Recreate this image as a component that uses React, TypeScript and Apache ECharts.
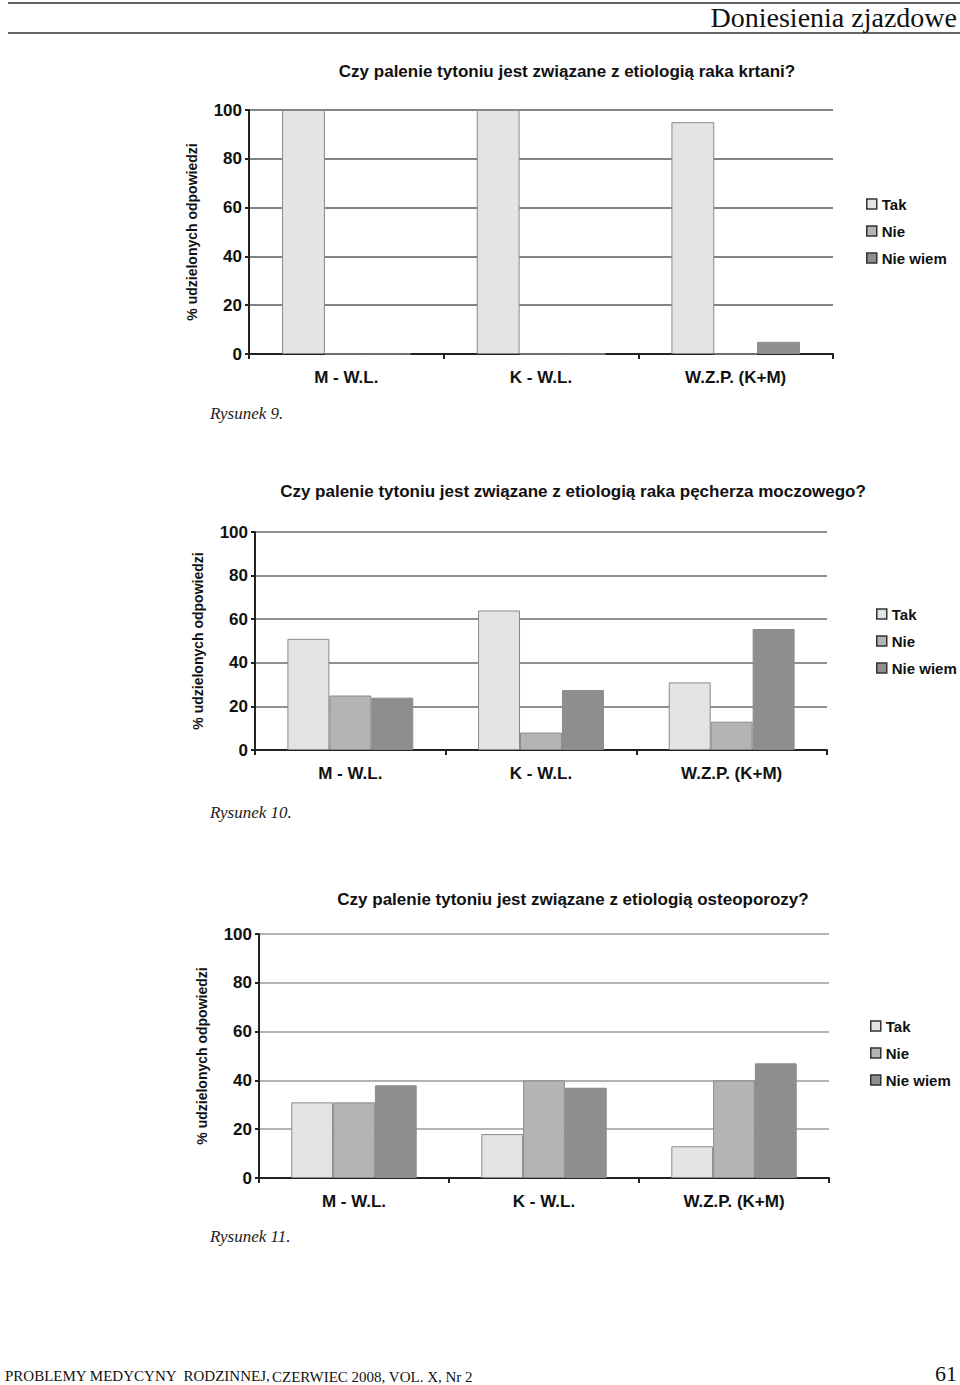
import React, { useEffect, useRef } from "react";
import * as echarts from "echarts";

const categories = ["M - W.L.", "K - W.L.", "W.Z.P. (K+M)"];
const seriesNames = ["Tak", "Nie", "Nie wiem"];
const yTicks = [0, 20, 40, 60, 80, 100];

// Rysunek 9 – rak krtani
const fig9Tak = [100, 100, 95];
const fig9Nie = [0, 0, 0];
const fig9NieWiem = [0, 0, 5];

// Rysunek 10 – rak pęcherza moczowego
const fig10Tak = [51, 64, 31];
const fig10Nie = [25, 8, 13];
const fig10NieWiem = [24, 27.5, 55.5];

// Rysunek 11 – osteoporoza
const fig11Tak = [31, 18, 13];
const fig11Nie = [31, 40, 40];
const fig11NieWiem = [38, 37, 47];

const titles = [
  "Czy palenie tytoniu jest związane z etiologią raka krtani?",
  "Czy palenie tytoniu jest związane z etiologią raka pęcherza moczowego?",
  "Czy palenie tytoniu jest związane z etiologią osteoporozy?",
];
const captions = ["Rysunek 9.", "Rysunek 10.", "Rysunek 11."];
const yName = "% udzielonych odpowiedzi";

const colors = ["#e4e4e4", "#b4b4b4", "#8e8e8e"];
const SANS = "Liberation Sans, Arial, sans-serif";
const SERIF = "Liberation Serif, Times New Roman, serif";

export default function App() {
  const ref = useRef<HTMLDivElement>(null);
  useEffect(() => {
    document.body.style.margin = "0";
    const chart = echarts.init(ref.current!, null, { renderer: "svg" });

    const grids = [
      { left: 249, top: 110, width: 584, height: 244 },
      { left: 255, top: 532, width: 572, height: 218 },
      { left: 259, top: 934, width: 570, height: 244 },
    ];
    const gridLineColors = ["#5a5a5a", "#6a6a6a", "#9a9a9a"];
    const legendPos = [
      { left: 861, top: 191 },
      { left: 871, top: 601 },
      { left: 865, top: 1013 },
    ];
    const titlePos = [
      { x: 567, y: 71 },
      { x: 573, y: 491 },
      { x: 573, y: 899 },
    ];
    const captionY = [413, 812, 1236];
    const data = [
      [fig9Tak, fig9Nie, fig9NieWiem],
      [fig10Tak, fig10Nie, fig10NieWiem],
      [fig11Tak, fig11Nie, fig11NieWiem],
    ];

    const xAxis = grids.map((_, i) => ({
      type: "category",
      gridIndex: i,
      data: categories,
      axisLine: { lineStyle: { color: "#222", width: 2 } },
      axisTick: { show: true, length: 5, lineStyle: { color: "#222", width: 2 } },
      axisLabel: {
        fontFamily: SANS,
        fontWeight: "bold",
        fontSize: 17,
        color: "#111",
        margin: 15,
      },
    }));
    const yAxis = grids.map((_, i) => ({
      type: "value",
      gridIndex: i,
      min: yTicks[0],
      max: yTicks[yTicks.length - 1],
      interval: 20,
      name: yName,
      nameLocation: "middle",
      nameRotate: 90,
      nameGap: 50,
      nameTextStyle: {
        fontFamily: SANS,
        fontWeight: "bold",
        fontSize: 14,
        color: "#111",
      },
      axisLine: { show: true, lineStyle: { color: "#222", width: 2 } },
      axisTick: { show: true, length: 4, lineStyle: { color: "#222", width: 2 } },
      axisLabel: {
        fontFamily: SANS,
        fontWeight: "bold",
        fontSize: 17,
        color: "#111",
        margin: 7,
      },
      splitLine: {
        show: true,
        lineStyle: { color: gridLineColors[i], width: 1.5 },
      },
    }));

    const series: any[] = [];
    data.forEach((d, i) => {
      d.forEach((vals, s) => {
        series.push({
          type: "bar",
          name: seriesNames[s],
          xAxisIndex: i,
          yAxisIndex: i,
          data: vals,
          barGap: "0%",
          barCategoryGap: "34%",
          itemStyle: {
            color: colors[s],
            borderColor: "#8a8a8a",
            borderWidth: 1,
          },
        });
      });
    });

    const legend = legendPos.map((p) => ({
      left: p.left,
      top: p.top,
      orient: "vertical",
      icon: "rect",
      itemWidth: 10,
      itemHeight: 10,
      itemGap: 11,
      data: seriesNames,
      selectedMode: false,
      itemStyle: { borderColor: "#333", borderWidth: 1.5 },
      textStyle: {
        fontFamily: SANS,
        fontWeight: "bold",
        fontSize: 15,
        lineHeight: 16,
        color: "#111",
        padding: [0, 0, 0, 0],
      },
    }));

    const graphic: any[] = [
      {
        type: "rect",
        shape: { x: 8, y: 2, width: 952, height: 2 },
        style: { fill: "#666" },
      },
      {
        type: "rect",
        shape: { x: 8, y: 32, width: 952, height: 2 },
        style: { fill: "#666" },
      },
      {
        type: "text",
        style: {
          text: "Doniesienia zjazdowe",
          x: 957,
          y: 17,
          textAlign: "right",
          textVerticalAlign: "middle",
          font: `28px ${SERIF}`,
          fill: "#111",
        },
      },
      {
        type: "text",
        style: {
          text: "PROBLEMY MEDYCYNY  RODZINNEJ,",
          x: 5,
          y: 1376,
          textAlign: "left",
          textVerticalAlign: "middle",
          font: `15px ${SERIF}`,
          fill: "#111",
        },
      },
      {
        type: "text",
        style: {
          text: "CZERWIEC 2008, VOL. X, Nr 2",
          x: 272,
          y: 1377,
          textAlign: "left",
          textVerticalAlign: "middle",
          font: `15px ${SERIF}`,
          fill: "#111",
        },
      },
      {
        type: "text",
        style: {
          text: "61",
          x: 957,
          y: 1373,
          textAlign: "right",
          textVerticalAlign: "middle",
          font: `22px ${SERIF}`,
          fill: "#111",
        },
      },
    ];
    titles.forEach((t, i) => {
      graphic.push({
        type: "text",
        style: {
          text: t,
          x: titlePos[i].x,
          y: titlePos[i].y,
          textAlign: "center",
          textVerticalAlign: "middle",
          font: `bold 17px ${SANS}`,
          fill: "#111",
        },
      });
    });
    captions.forEach((c, i) => {
      graphic.push({
        type: "text",
        style: {
          text: c,
          x: 210,
          y: captionY[i],
          textAlign: "left",
          textVerticalAlign: "middle",
          font: `italic 17px ${SERIF}`,
          fill: "#222",
        },
      });
    });

    chart.setOption({
      animation: false,
      backgroundColor: "#ffffff",
      grid: grids.map((g) => ({ ...g, containLabel: false })),
      xAxis,
      yAxis,
      legend,
      series,
      graphic,
    });
    return () => chart.dispose();
  }, []);
  return <div ref={ref} style={{ width: 960, height: 1385 }} />;
}
